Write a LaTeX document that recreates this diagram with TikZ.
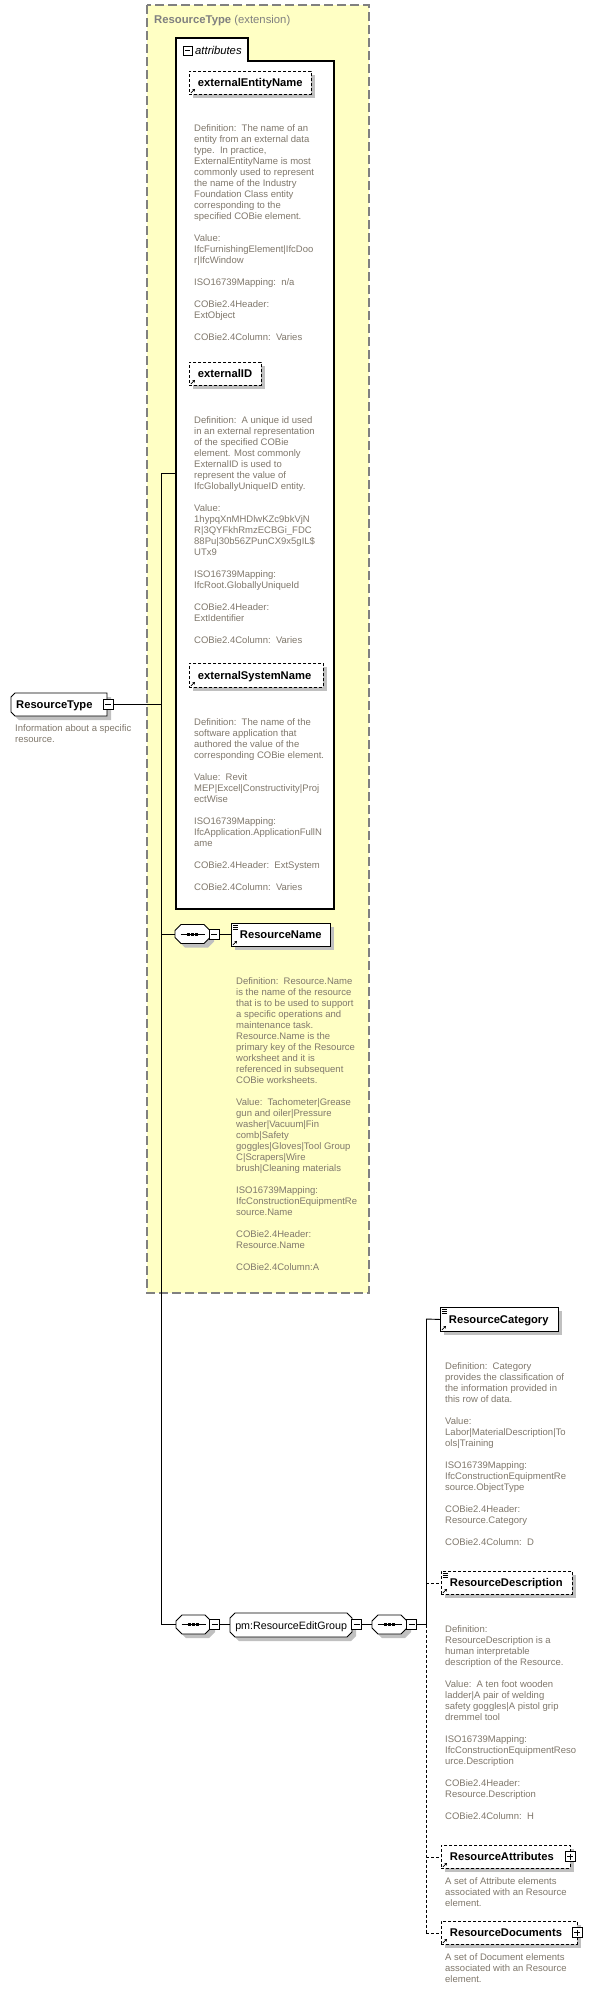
\documentclass[tikz,border=0pt]{standalone}
\usepackage{fontspec}
\setmainfont{Liberation Sans}
\usetikzlibrary{shadows,arrows.meta}
\definecolor{yel}{RGB}{255,255,196}
\definecolor{yelborder}{RGB}{128,128,128}
\definecolor{titlegray}{RGB}{128,128,128}
\definecolor{shadowgray}{RGB}{192,192,192}
\definecolor{desccol}{RGB}{128,120,108}
\newcommand\descfont{\fontsize{9.5}{11}\selectfont}
\newcommand\labfont{\fontsize{11.2}{13}\selectfont\bfseries}
\newcommand\grpfont{\fontsize{10.7}{13}\selectfont}
\newcommand\titfont{\fontsize{11.3}{13}\selectfont}
\tikzset{
 shad/.style={drop shadow={shadow xshift=4pt,shadow yshift=-4pt,fill=shadowgray,opacity=1,draw=none}},
 outline/.style={draw=black,fill=white,line width=0.9pt,shad},
 desc/.style={anchor=north west,inner sep=0pt,align=left,font=\descfont,text=desccol},
 elembox/.style={rectangle,draw=black,fill=white,line width=0.9pt,anchor=north west,inner xsep=8.5pt,inner ysep=0pt,text height=9pt,text depth=1.4pt,font=\labfont,align=left,minimum height=23pt,shad},
 optbox/.style={elembox,dash pattern=on 3pt off 2pt},
 refonly/.style={path picture={\draw[solid,line width=0.7pt,-{Stealth[length=2.5pt,width=3pt]}] ([xshift=1.5pt,yshift=1.5pt]path picture bounding box.south west) -- ++(4pt,4pt);}},
 refdoc/.style={path picture={\draw[solid,line width=0.7pt,-{Stealth[length=2.5pt,width=3pt]}] ([xshift=1.5pt,yshift=1.5pt]path picture bounding box.south west) -- ++(4pt,4pt);
   \foreach \k in {1.5,3.5,5.5}{\draw[solid,line width=0.7pt] ([xshift=1.5pt,yshift=-\k*1pt]path picture bounding box.north west) -- ++(5pt,0pt);}}},
 holder/.style={rectangle,draw=none,fill=none,inner sep=0pt,anchor=north west},
 minusbox/.style={rectangle,draw=black,fill=white,line width=1pt,minimum size=10pt,inner sep=0pt,
   path picture={\draw[line width=1pt] ([xshift=2pt]path picture bounding box.west) -- ([xshift=-2pt]path picture bounding box.east);}},
 plusbox/.style={minusbox,
   path picture={\draw[line width=1pt] ([xshift=2pt]path picture bounding box.west) -- ([xshift=-2pt]path picture bounding box.east) ([yshift=2pt]path picture bounding box.south) -- ([yshift=-2pt]path picture bounding box.north);}},
 conn/.style={draw=black,line width=0.9pt},
 optconn/.style={conn,dash pattern=on 3pt off 2pt},
}
% octagon outline: x1 y1 x2 y2 chamfer
\newcommand\octo[5]{%
  \path[outline] ({#1+#5},#2) -- ({#3-#5},#2) -- (#3,{#2+#5}) -- (#3,{#4-#5}) -- ({#3-#5},#4) -- ({#1+#5},#4) -- (#1,{#4-#5}) -- (#1,{#2+#5}) -- cycle;}
% sequence compositor: name x y
\newcommand\seqcomp[3]{%
  \octo{#2}{#3}{#2+35}{#3+19}{6}
  \node[holder,minimum width=35pt,minimum height=19pt] (#1) at (#2,#3) {};
  \draw[line width=0.9pt] ([xshift=-12pt]#1.center) -- ([xshift=12pt]#1.center);
  \foreach \dx in {-4,0,4}{\fill ([xshift=\dx*1pt-1.6pt,yshift=-1.6pt]#1.center) rectangle ++(3.2pt,3.2pt);}}
\begin{document}
\begin{tikzpicture}[x=1pt,y=-1pt]
\useasboundingbox (0,0) rectangle (605,1989);
\fill[white] (0,0) rectangle (605,1989);

% extension box
\draw[fill=yel,draw=yelborder,line width=1.3pt,dash pattern=on 9pt off 4pt] (147,5) rectangle (369,1293);
\node[anchor=base west,inner sep=0pt,font=\titfont,text=titlegray] (title) at (154,23) {\textbf{ResourceType} (extension)};

% buses
\coordinate (bus) at (161,473);
\coordinate (attrin) at (176,473);
\coordinate (bus2) at (426,1319);

% attributes group
\draw[fill=white,line width=1.2pt] (176,38) -- (248,38) -- (248,61) -- (334,61) -- (334,909) -- (176,909) -- cycle;
\node[minusbox,minimum size=9pt] (attrminus) at (187.5,50.5) {};
\node[anchor=base west,inner sep=0pt,font={\titfont\itshape}] (attrlabel) at (195,54.5) {attributes};

\node[optbox,refonly,text width=105pt] (een) at (189,71) {\mbox{externalEntityName}};
\node[desc] (eendesc) at (194,123.8) {\strut Definition:~~The name of an\\
entity from an external data\\
type.~~In practice,\\
ExternalEntityName is most\\
commonly used to represent\\
the name of the Industry\\
Foundation Class entity\\
corresponding to the\\
specified COBie element.\\[11pt]
Value:\\
IfcFurnishingElement|IfcDoo\\
r|IfcWindow\\[11pt]
ISO16739Mapping:~~n/a\\[11pt]
COBie2.4Header:\\
ExtObject\\[11pt]
COBie2.4Column:~~Varies};

\node[optbox,refonly,text width=55pt] (eid) at (189,362) {\mbox{externalID}};
\node[desc] (eiddesc) at (194,415.8) {\strut Definition:~~A unique id used\\
in an external representation\\
of the specified COBie\\
element. Most commonly\\
ExternalID is used to\\
represent the value of\\
IfcGloballyUniqueID entity.\\[11pt]
Value:\\
1hypqXnMHDlwKZc9bkVjN\\
R|3QYFkhRmzECBGi\_FDC\\
88Pu|30b56ZPunCX9x5gIL\$\\
UTx9\\[11pt]
ISO16739Mapping:\\
IfcRoot.GloballyUniqueId\\[11pt]
COBie2.4Header:\\
ExtIdentifier\\[11pt]
COBie2.4Column:~~Varies};

\node[optbox,refonly,text width=117pt,minimum height=24pt] (esn) at (189,663) {\mbox{externalSystemName}};
\node[desc] (esndesc) at (194,717.8) {\strut Definition:~~The name of the\\
software application that\\
authored the value of the\\
corresponding COBie element.\\[11pt]
Value:~~Revit\\
MEP|Excel|Constructivity|Proj\\
ectWise\\[11pt]
ISO16739Mapping:\\
IfcApplication.ApplicationFullN\\
ame\\[11pt]
COBie2.4Header:~~ExtSystem\\[11pt]
COBie2.4Column:~~Varies};

% root element
\path[outline] (15,693) -- (107,693) -- (107,716) -- (15,716) -- (11,712) -- (11,697) -- cycle;
\node[holder,minimum height=23pt,text width=86pt,inner xsep=5pt,align=left,text height=9pt,text depth=1.4pt,font=\labfont] (rt) at (11,693) {\mbox{ResourceType}};
\node[minusbox] (rtminus) at (108,704.5) {};
\node[desc] (rtdesc) at (15,723.8) {\strut Information about a specific\\resource.};

% connectors left bus
\draw[conn] (rtminus.east) -- (bus |- rtminus.east);
\draw[conn] (bus) -- (attrin);

% ResourceName
\seqcomp{seq1}{175}{924.5}
\node[minusbox] (seq1minus) at (214,934) {};
\node[elembox,refdoc,text width=82pt] (rname) at (231,923) {\mbox{ResourceName}};
\draw[conn] (bus |- seq1.west) -- (seq1.west);
\draw[conn] (seq1minus.east) -- (seq1minus.east -| rname.west);
\node[desc] (rnamedesc) at (236,976.8) {\strut Definition:~~Resource.Name\\
is the name of the resource\\
that is to be used to support\\
a specific operations and\\
maintenance task.\\
Resource.Name is the\\
primary key of the Resource\\
worksheet and it is\\
referenced in subsequent\\
COBie worksheets.\\[11pt]
Value:~~Tachometer|Grease\\
gun and oiler|Pressure\\
washer|Vacuum|Fin\\
comb|Safety\\
goggles|Gloves|Tool Group\\
C|Scrapers|Wire\\
brush|Cleaning materials\\[11pt]
ISO16739Mapping:\\
IfcConstructionEquipmentRe\\
source.Name\\[11pt]
COBie2.4Header:\\
Resource.Name\\[11pt]
COBie2.4Column:A};

% group
\seqcomp{seq2}{176}{1615}
\node[minusbox] (seq2minus) at (214.5,1624.5) {};
\octo{230}{1613}{352}{1637}{5}
\node[holder,minimum width=122pt,minimum height=24pt,text height=9pt,text depth=1.4pt,font=\grpfont] (grp) at (230,1613) {pm:ResourceEditGroup};
\node[minusbox] (grpminus) at (356.5,1624.5) {};
\seqcomp{seq3}{372}{1615}
\node[minusbox] (seq3minus) at (411.5,1624.5) {};
\draw[conn] (bus) -- (bus |- seq2.west) -- (seq2.west);
\draw[conn] (seq2minus.east) -- (seq2minus.east -| grp.west);
\draw[conn] (grpminus.east) -- (grpminus.east -| seq3.west);
\draw[conn] (seq3minus.east) -- (bus2 |- seq3minus.east);

% right side
\node[elembox,refdoc,text width=101pt,minimum height=24pt] (rcat) at (440,1307) {\mbox{ResourceCategory}};
\draw[conn] (bus2) -- (bus2 |- seq3minus.east);
\draw[conn] (bus2) -- (rcat.west);
\node[desc] (rcatdesc) at (445,1361.8) {\strut Definition:~~Category\\
provides the classification of\\
the information provided in\\
this row of data.\\[11pt]
Value:\\
Labor|MaterialDescription|To\\
ols|Training\\[11pt]
ISO16739Mapping:\\
IfcConstructionEquipmentRe\\
source.ObjectType\\[11pt]
COBie2.4Header:\\
Resource.Category\\[11pt]
COBie2.4Column:~~D};

\node[optbox,refdoc,text width=114pt] (rdesc) at (441,1571) {\mbox{ResourceDescription}};
\node[desc] (rdescdesc) at (445,1624.8) {\strut Definition:\\
ResourceDescription is a\\
human interpretable\\
description of the Resource.\\[11pt]
Value:~~A ten foot wooden\\
ladder|A pair of welding\\
safety goggles|A pistol grip\\
dremmel tool\\[11pt]
ISO16739Mapping:\\
IfcConstructionEquipmentReso\\
urce.Description\\[11pt]
COBie2.4Header:\\
Resource.Description\\[11pt]
COBie2.4Column:~~H};

\node[optbox,refonly,text width=112pt] (ratt) at (441,1845) {\mbox{ResourceAttributes}};
\node[plusbox] (rattplus) at (570,1856.5) {};
\node[desc] (rattdesc) at (445,1876.8) {\strut A set of Attribute elements\\
associated with an Resource\\
element.};

\node[optbox,refonly,text width=119pt] (rdoc) at (441,1921) {\mbox{ResourceDocuments}};
\node[plusbox] (rdocplus) at (577,1932.5) {};
\node[desc] (rdocdesc) at (445,1952.8) {\strut A set of Document elements\\
associated with an Resource\\
element.};

\draw[optconn] (bus2 |- seq3minus.east) -- (bus2 |- rdoc.west);
\draw[optconn] (bus2 |- rdesc.west) -- (rdesc.west);
\draw[optconn] (bus2 |- ratt.west) -- (ratt.west);
\draw[optconn] (bus2 |- rdoc.west) -- (rdoc.west);
\end{tikzpicture}
\end{document}
